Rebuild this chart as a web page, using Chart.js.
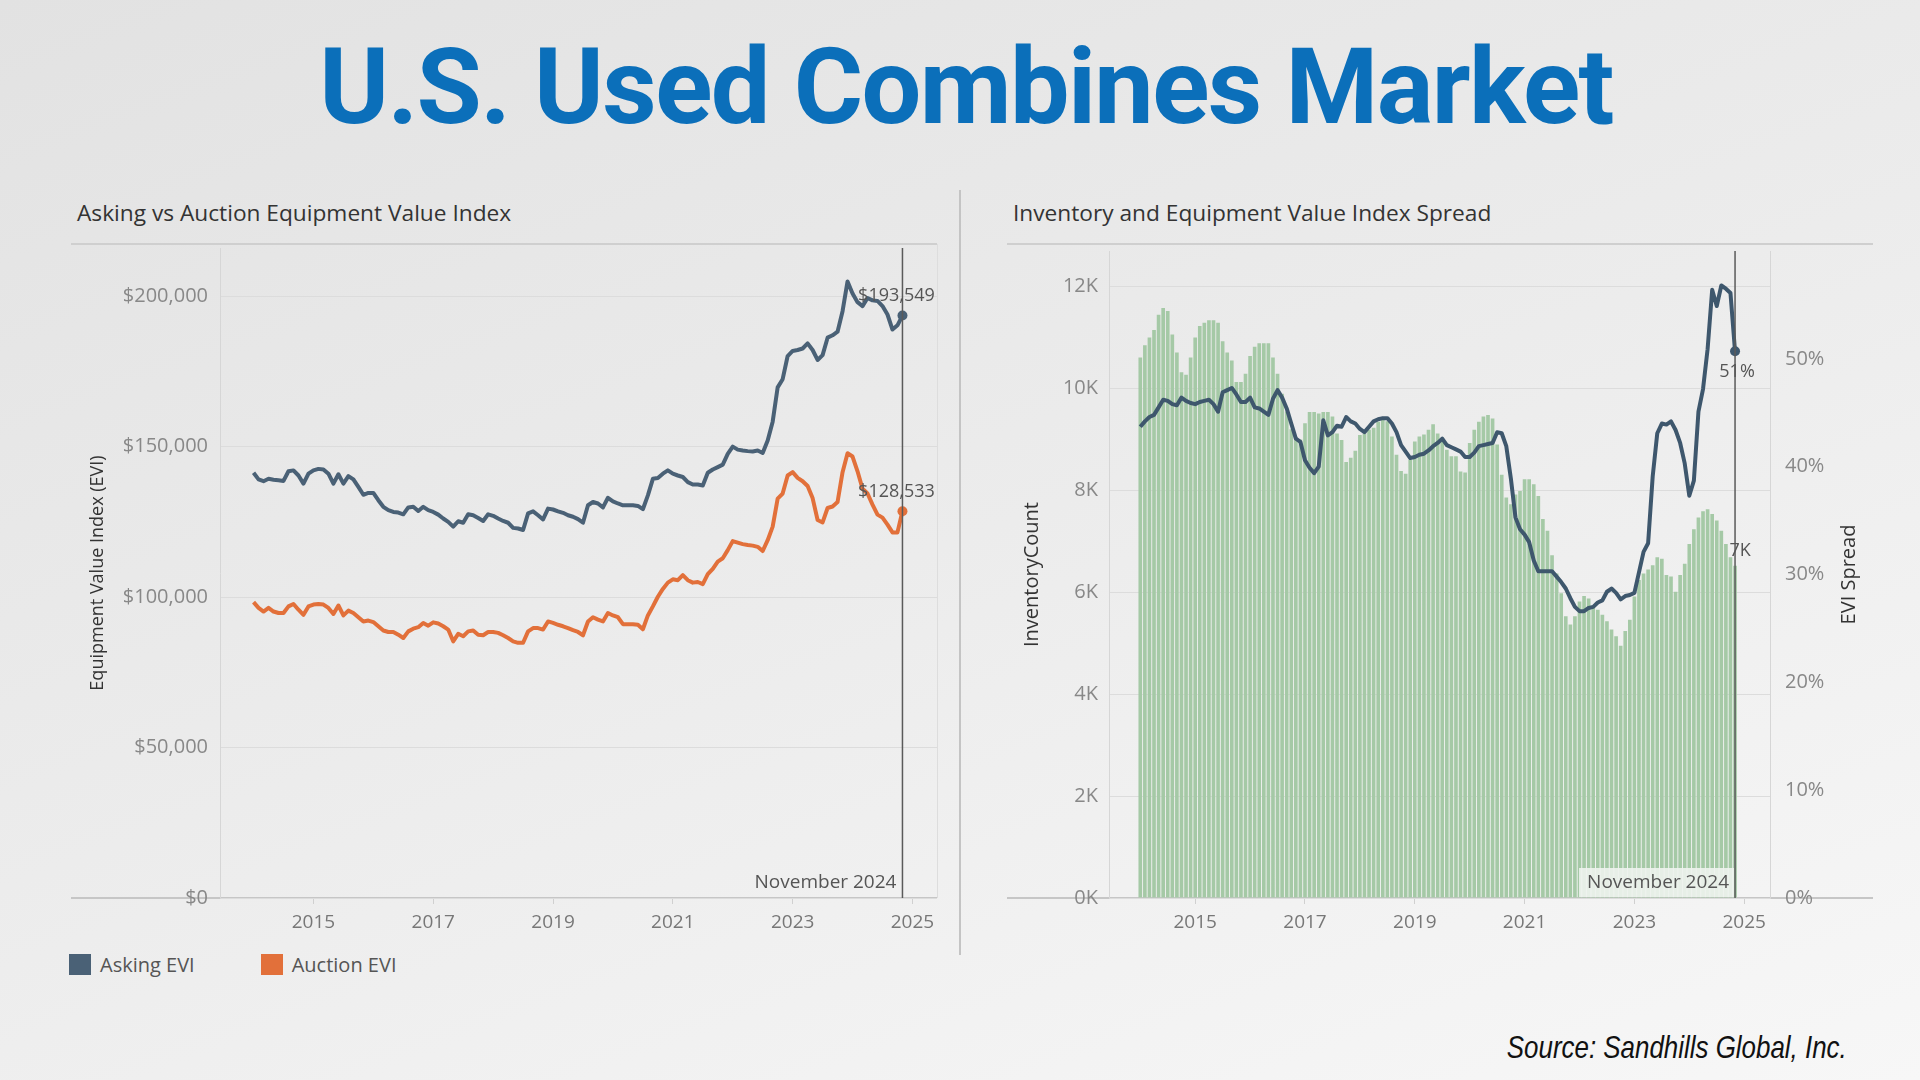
<!DOCTYPE html>
<html>
<head>
<meta charset="utf-8">
<script src="https://cdn.jsdelivr.net/npm/chart.js@4.4.1/dist/chart.umd.min.js"></script>
<style>
  body {
    margin: 0; width: 1920px; height: 1080px; overflow: hidden; position: relative;
    background: linear-gradient(160deg, #e2e2e2 0%, #ececec 50%, #f7f7f7 100%);
    font-family: "Open Sans", sans-serif;
  }
  .abs { position: absolute; }
  #title {
    left: 0; top: 34px; width: 1932px; text-align: center;
    font-family: Roboto, sans-serif; font-weight: 700; font-size: 106px; line-height: 106px;
    color: #0b6fba; letter-spacing: -1.6px;
  }
  .ptitle { font-size: 22.7px; line-height: 26px; color: #333; top: 200px; }
  .line { background: #cfcfcf; }
  #legend { left: 69px; top: 951px; font-size: 20px; color: #555; }
  #legend span.item { display: inline-flex; align-items: center; margin-right: 66px; }
  #legend span.box { display: inline-block; width: 22px; height: 21px; margin-right: 9px; }
  #source {
    right: 73px; top: 1029px; font-family: "Liberation Sans", sans-serif;
    font-style: italic; font-size: 32px; color: #111;
    transform: scaleX(0.81); transform-origin: right center;
  }
</style>
</head>
<body>
<div id="title" class="abs">U.S. Used Combines Market</div>

<div class="abs ptitle" style="left:77px">Asking vs Auction Equipment Value Index</div>
<div class="abs ptitle" style="left:1013px">Inventory and Equipment Value Index Spread</div>

<div class="abs line" style="left:71px;top:243px;width:866px;height:2px"></div>
<div class="abs line" style="left:71px;top:897px;width:866px;height:2px;background:#c6c6c6"></div>
<div class="abs line" style="left:937px;top:244px;width:1px;height:654px;background:#dddddd"></div>
<div class="abs line" style="left:1007px;top:243px;width:866px;height:2px"></div>
<div class="abs line" style="left:1007px;top:897px;width:866px;height:2px;background:#c6c6c6"></div>
<div class="abs line" style="left:959px;top:190px;width:2px;height:765px;background:#c4c4c4"></div>

<div class="abs" style="left:71px;top:224px;width:889px;height:724px"><canvas id="evi"></canvas></div>
<div class="abs" style="left:1007px;top:224px;width:866px;height:724px"><canvas id="inv"></canvas></div>

<div id="legend" class="abs"></div>
<div id="source" class="abs">Source: Sandhills Global, Inc.</div>

<script>
// monthly series, Jan 2014 .. Nov 2024
const startYear = 2014;
const lastLabel = "November 2024";
const yearTicks = [2015, 2017, 2019, 2021, 2023, 2025];
const eviTicks = [0, 50000, 100000, 150000, 200000];
const invTicks = [0, 2000, 4000, 6000, 8000, 10000, 12000];
const spreadTicks = [0, 10, 20, 30, 40, 50];

const seriesNames = ["Asking EVI", "Auction EVI"];
const seriesColors = ["#4a6176", "#e2703a"];

const askingEVI = [
  141300, 139100, 138500, 139300, 139000, 138800, 138600, 141800, 142100, 140400,
  137700, 141000, 142100, 142600, 142400, 141000, 137700, 140800, 137700, 140200,
  139100, 136600, 134000, 134600, 134600, 132200, 130000, 128900, 128300, 128100,
  127500, 129800, 130000, 128600, 130000, 128900, 128300, 127400, 126100, 125000,
  123400, 125200, 124700, 127500, 127200, 126300, 125300, 127500, 127000, 126100,
  125300, 124700, 123000, 122800, 122300, 127800, 128500, 127200, 125800, 129400,
  129100, 128500, 128000, 127200, 126700, 125900, 124700, 130500, 131600, 131100,
  129800, 133000, 131800, 131100, 130500, 130500, 130500, 130300, 129200, 133800,
  139300, 139600, 141000, 142100, 141000, 140400, 139900, 138200, 137400, 137400,
  137100, 141300, 142400, 143200, 144000, 147600, 150000, 149000, 148700, 148500,
  148400, 148700, 147900, 152000, 158300, 169700, 172400, 180100, 181800, 182100,
  182600, 184300, 182100, 178800, 180400, 186200, 187000, 188200, 195000, 204900,
  200900, 198000, 196700, 199400, 198600, 198400, 196700, 193900, 188900, 190300,
  193549
];

const auctionEVI = [
  98300, 96400, 95200, 96400, 95200, 94700, 94700, 96900, 97700, 95800,
  94100, 96900, 97500, 97700, 97500, 96400, 94400, 97200, 93900, 95500,
  94700, 93300, 91900, 92200, 91700, 90300, 88900, 88400, 88400, 87500,
  86400, 88600, 89500, 90000, 91400, 90500, 91600, 91200, 90300, 89200,
  85300, 87800, 87000, 88600, 88900, 87500, 87300, 88400, 88400, 88100,
  87300, 86400, 85300, 84800, 84800, 88600, 89700, 89700, 89200, 91900,
  91400, 90800, 90300, 89700, 89000, 88400, 87300, 91900, 93300, 92500,
  91900, 94700, 93900, 93300, 91000, 91000, 91000, 90800, 89300, 93900,
  96900, 100100, 102700, 104800, 105900, 105600, 107300, 105600, 104800, 105000,
  104300, 107600, 109400, 111800, 112900, 115600, 118600, 118100, 117600, 117300,
  117100, 116700, 115300, 118900, 123400, 132700, 134400, 140400, 141500, 139600,
  138500, 136900, 132900, 125600, 124800, 129600, 130100, 131600, 141500, 147800,
  146700, 141800, 136000, 134400, 130700, 127400, 126400, 124100, 121500, 121500,
  128533
];

const inventoryCount = [
  10610, 10850, 11000, 11150, 11450, 11580, 11520, 11060, 10710, 10320,
  10270, 10610, 11000, 11230, 11290, 11340, 11340, 11290, 10930, 10710,
  10550, 10130, 10130, 10290, 10640, 10820, 10890, 10890, 10890, 10610,
  10290, 9900, 9550, 9200, 9050, 9000, 9320, 9540, 9540, 9510,
  9540, 9540, 9450, 9120, 8990, 8560, 8640, 8780, 9090, 9120,
  9190, 9230, 9350, 9410, 9360, 9060, 8700, 8380, 8330, 8600,
  8960, 9060, 9100, 9190, 9300, 9120, 9020, 8800, 8670, 8670,
  8370, 8350, 8930, 9190, 9350, 9450, 9480, 9410, 8900, 8310,
  7860, 7730, 7920, 7990, 8220, 8220, 8120, 7890, 7440, 7210,
  6730, 6370, 5980, 5530, 5370, 5530, 5820, 5930, 5880, 5720,
  5660, 5560, 5430, 5270, 5140, 4950, 5240, 5460, 5920, 6240,
  6370, 6450, 6530, 6690, 6660, 6340, 6310, 6010, 6340, 6560,
  6950, 7240, 7470, 7590, 7630, 7540, 7410, 7210, 6950, 6690,
  6520
];

const eviSpread = [
  43.7, 44.2, 44.6, 44.8, 45.5, 46.2, 46.1, 45.8, 45.7, 46.4,
  46.1, 45.9, 45.8, 46.0, 46.1, 46.2, 45.8, 45.1, 46.9, 47.1,
  47.3, 46.7, 46.0, 46.0, 46.4, 45.5, 45.4, 45.1, 44.8, 46.3,
  47.1, 46.4, 45.4, 44.0, 42.6, 42.3, 40.6, 39.9, 39.4, 40.0,
  44.3, 42.9, 43.2, 43.8, 43.7, 44.6, 44.2, 44.0, 43.5, 43.2,
  43.7, 44.2, 44.4, 44.5, 44.5, 44.0, 43.2, 42.0, 41.4, 40.8,
  40.9, 41.1, 41.2, 41.5, 41.9, 42.2, 42.6, 42.0, 41.8, 41.6,
  41.4, 40.9, 40.9, 41.3, 41.9, 42.0, 42.1, 42.2, 43.2, 43.1,
  41.9, 38.9, 35.3, 34.2, 33.7, 33.0, 31.3, 30.3, 30.3, 30.3,
  30.3, 29.8, 29.3, 28.7, 27.8, 27.0, 26.6, 26.6, 26.9, 27.0,
  27.4, 27.6, 28.4, 28.7, 28.3, 27.7, 28.0, 28.1, 28.3, 30.2,
  32.1, 32.9, 39.1, 43.1, 44.0, 43.9, 44.2, 43.4, 42.2, 40.3,
  37.3, 38.7, 45.1, 47.2, 50.9, 56.4, 54.9, 56.8, 56.5, 56.1,
  50.7
];

const months = askingEVI.map((_, i) => startYear + i / 12);
const last = months.length - 1;
const pts = arr => arr.map((v, i) => ({ x: months[i], y: v }));
const endDot = ctx => ctx.dataIndex === last ? 5 : 0;

Chart.defaults.font.family = '"Open Sans", sans-serif';
Chart.defaults.animation = false;

// legend (html)
document.getElementById("legend").innerHTML = seriesNames.map((n, i) =>
  `<span class="item"><span class="box" style="background:${seriesColors[i]}"></span>${n}</span>`
).join("");

// reference line + end labels
const refLine = {
  id: "refLine",
  afterDatasetsDraw(chart, args, opts) {
    const { ctx, chartArea: a, scales: { x } } = chart;
    const px = x.getPixelForValue(months[last]);
    ctx.save();
    if (opts.box) {
      ctx.fillStyle = opts.box;
      ctx.fillRect(px - 156, a.bottom - 30, 155, 29);
    }
    ctx.strokeStyle = "#5a5a5a";
    ctx.lineWidth = 1.5;
    ctx.beginPath();
    ctx.moveTo(px, a.top);
    ctx.lineTo(px, a.bottom);
    ctx.stroke();

    ctx.font = '19px "Open Sans"';
    ctx.fillStyle = "#555";
    ctx.textBaseline = "middle";
    ctx.textAlign = "right";
    ctx.fillText(lastLabel, px - 6, a.bottom - 15);

    ctx.font = '18px "Open Sans"';
    ctx.textAlign = "center";
    (opts.labels || []).forEach(l => {
      const p = chart.getDatasetMeta(l.ds).data[last];
      ctx.fillText(l.text, p.x + l.dx, p.y + l.dy);
    });

    if (opts.rightTitle) {
      ctx.translate(opts.rightTitle.x, (a.top + a.bottom) / 2);
      ctx.rotate(-Math.PI / 2);
      ctx.font = '20px "Open Sans"';
      ctx.fillStyle = "#333";
      ctx.fillText(opts.rightTitle.text, 0, 0);
    }
    ctx.restore();
  }
};

const xAxis = (min, max) => ({
  type: "linear", min, max, offset: false,
  afterBuildTicks: s => { s.ticks = yearTicks.map(v => ({ value: v })); },
  afterFit: s => { s.height = 50; },
  grid: { drawOnChartArea: false, drawTicks: true, tickLength: 6, color: "#d0d0d0", offset: false },
  border: { display: false },
  ticks: { color: "#777", font: { size: 19 }, padding: 7, maxRotation: 0, autoSkip: false, callback: v => String(v) }
});

new Chart(document.getElementById("evi"), {
  type: "line",
  data: {
    datasets: [
      { label: seriesNames[0], data: pts(askingEVI), borderColor: seriesColors[0], backgroundColor: seriesColors[0],
        borderWidth: 4, tension: 0, pointRadius: endDot, pointBorderWidth: 0, borderJoinStyle: "round" },
      { label: seriesNames[1], data: pts(auctionEVI), borderColor: seriesColors[1], backgroundColor: seriesColors[1],
        borderWidth: 4, tension: 0, pointRadius: endDot, pointBorderWidth: 0, borderJoinStyle: "round" }
    ]
  },
  options: {
    responsive: true,
    maintainAspectRatio: false,
    layout: { padding: { top: 20, right: 23, left: 0, bottom: 0 } },
    scales: {
      x: xAxis(2013.44, 2025.41),
      y: {
        min: 0, max: 216000,
        afterBuildTicks: s => { s.ticks = eviTicks.map(v => ({ value: v })); },
        afterFit: s => { s.width = 149; },
        grid: { color: "#dcdcdc", drawTicks: false },
        border: { display: true, color: "#d6d6d6" },
        ticks: { color: "#888", font: { size: 20 }, padding: 12, callback: v => "$" + v.toLocaleString("en-US") },
        title: { display: true, text: "Equipment Value Index (EVI)", color: "#333", font: { size: 18 }, padding: { top: 16 } }
      }
    },
    plugins: {
      legend: { display: false },
      tooltip: { enabled: false },
      refLine: {
        labels: [
          { ds: 0, text: "$" + askingEVI[last].toLocaleString("en-US"), dx: -6, dy: -20 },
          { ds: 1, text: "$" + auctionEVI[last].toLocaleString("en-US"), dx: -6, dy: -19 }
        ]
      }
    }
  },
  plugins: [refLine]
});

new Chart(document.getElementById("inv"), {
  type: "bar",
  data: {
    datasets: [
      { type: "line", label: "EVI Spread", data: pts(eviSpread), yAxisID: "y1", order: 0,
        borderColor: "#3e576d", backgroundColor: "#3e576d", borderWidth: 4, tension: 0,
        pointRadius: endDot, pointBorderWidth: 0, borderJoinStyle: "round" },
      { label: "InventoryCount", data: pts(inventoryCount), yAxisID: "y", order: 1,
        backgroundColor: "#a5c9a6", barPercentage: 0.8, categoryPercentage: 1 }
    ]
  },
  options: {
    responsive: true,
    maintainAspectRatio: false,
    layout: { padding: { top: 20, right: 0, left: 0, bottom: 0 } },
    scales: {
      x: xAxis(2013.43, 2025.47),
      y: {
        min: 0, max: 12700,
        afterBuildTicks: s => { s.ticks = invTicks.map(v => ({ value: v })); },
        afterFit: s => { s.width = 102; },
        grid: { color: "#dcdcdc", drawTicks: false },
        border: { display: true, color: "#d6d6d6" },
        ticks: { color: "#888", font: { size: 20 }, padding: 11, callback: v => v / 1000 + "K" },
        title: { display: true, text: "InventoryCount", color: "#333", font: { size: 20 }, padding: { top: 13 } }
      },
      y1: {
        position: "right",
        min: 0, max: 60,
        afterBuildTicks: s => { s.ticks = spreadTicks.map(v => ({ value: v })); },
        afterFit: s => { s.width = 103; },
        grid: { drawOnChartArea: false, drawTicks: false },
        border: { display: true, color: "#d6d6d6" },
        ticks: { color: "#888", font: { size: 20 }, padding: 15, callback: v => v + "%" }
      }
    },
    plugins: {
      legend: { display: false },
      tooltip: { enabled: false },
      refLine: {
        box: "rgba(238,243,238,0.9)",
        rightTitle: { text: "EVI Spread", x: 842 },
        labels: [
          { ds: 0, text: Math.round(eviSpread[last]) + "%", dx: 2, dy: 21 },
          { ds: 1, text: Math.round(inventoryCount[last] / 1000) + "K", dx: 5, dy: -15 }
        ]
      }
    }
  },
  plugins: [refLine]
});
</script>
</body>
</html>
